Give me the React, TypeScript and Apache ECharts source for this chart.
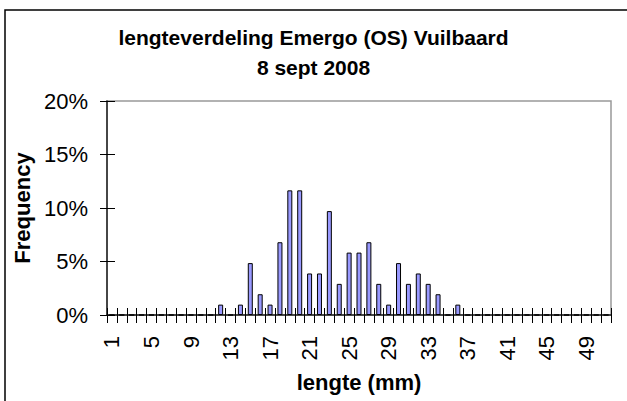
import React, { useEffect, useRef } from "react";
import * as echarts from "echarts";

const titleLines = ["lengteverdeling Emergo (OS) Vuilbaard", "8 sept 2008"];
const xAxisName = "lengte (mm)";
const yAxisName = "Frequency";

const categories = [
  "1", "2", "3", "4", "5", "6", "7", "8", "9", "10",
  "11", "12", "13", "14", "15", "16", "17", "18", "19", "20",
  "21", "22", "23", "24", "25", "26", "27", "28", "29", "30",
  "31", "32", "33", "34", "35", "36", "37", "38", "39", "40",
  "41", "42", "43", "44", "45", "46", "47", "48", "49", "50",
  "51",
];

const frequency = [
  0, 0, 0, 0, 0, 0, 0, 0, 0, 0,
  0, 0.0097, 0, 0.0097, 0.0485, 0.0194, 0.0097, 0.068, 0.1165, 0.1165,
  0.0388, 0.0388, 0.0971, 0.0291, 0.0583, 0.0583, 0.068, 0.0291, 0.0097, 0.0485,
  0.0291, 0.0388, 0.0291, 0.0194, 0, 0.0097, 0, 0, 0, 0,
  0, 0, 0, 0, 0, 0, 0, 0, 0, 0,
  0,
];

const yMin = 0;
const yMax = 0.2;
const yInterval = 0.05;

const FONT = "Arial, 'Liberation Sans', sans-serif";

export default function App() {
  const ref = useRef<HTMLDivElement>(null);
  useEffect(() => {
    document.body.style.margin = "0";
    if (!ref.current) return;
    const chart = echarts.init(ref.current, null, { renderer: "svg" });
    const pct = (v: number) => Math.round(v * 100) + "%";
    chart.setOption({
      animation: false,
      backgroundColor: "#fff",
      textStyle: { fontFamily: FONT, color: "#000" },
      title: {
        text: titleLines.join("\n"),
        left: "center",
        top: 17,
        textStyle: {
          fontFamily: FONT,
          fontSize: 21,
          fontWeight: "bold",
          color: "#000",
          lineHeight: 30,
        },
      },
      graphic: [
        {
          type: "rect",
          silent: true,
          z: -10,
          shape: { x: 5, y: 10, width: 700, height: 500 },
          style: { fill: "none", stroke: "#000", lineWidth: 1.5 },
        },
      ],
      grid: {
        left: 107,
        right: 16,
        top: 101,
        bottom: 86,
        containLabel: false,
        show: true,
        borderColor: "#999",
        borderWidth: 1.5,
        backgroundColor: "transparent",
      },
      xAxis: [
        {
          type: "category",
          data: categories,
          position: "bottom",
          name: xAxisName,
          nameLocation: "middle",
          nameGap: 56,
          nameTextStyle: {
            fontFamily: FONT,
            fontSize: 22,
            fontWeight: "bold",
            color: "#000",
          },
          axisLine: { show: true, lineStyle: { color: "#222", width: 1.5 } },
          axisTick: {
            show: true,
            inside: false,
            length: 8,
            interval: 0,
            alignWithLabel: false,
            lineStyle: { color: "#000", width: 1 },
          },
          axisLabel: {
            interval: 3,
            rotate: 90,
            margin: 21,
            fontFamily: FONT,
            fontSize: 22,
            color: "#000",
          },
          splitLine: { show: false },
        },
        {
          type: "category",
          data: categories,
          position: "bottom",
          axisLine: { show: false },
          axisTick: {
            show: true,
            inside: true,
            length: 7,
            interval: 0,
            alignWithLabel: false,
            lineStyle: { color: "#000", width: 1 },
          },
          axisLabel: { show: false },
          splitLine: { show: false },
        },
      ],
      yAxis: [
        {
          type: "value",
          min: yMin,
          max: yMax,
          interval: yInterval,
          position: "left",
          name: yAxisName,
          nameLocation: "middle",
          nameRotate: 90,
          nameGap: 63,
          nameTextStyle: {
            fontFamily: FONT,
            fontSize: 22,
            fontWeight: "bold",
            color: "#000",
          },
          axisLine: { show: true, lineStyle: { color: "#222", width: 1.5 } },
          axisTick: {
            show: true,
            inside: false,
            length: 7,
            lineStyle: { color: "#000", width: 1 },
          },
          axisLabel: {
            margin: 19,
            fontFamily: FONT,
            fontSize: 22,
            color: "#000",
            formatter: pct,
          },
          splitLine: { show: false },
        },
        {
          type: "value",
          min: yMin,
          max: yMax,
          interval: yInterval,
          position: "left",
          axisLine: { show: false },
          axisTick: {
            show: true,
            inside: true,
            length: 8,
            lineStyle: { color: "#000", width: 1 },
          },
          axisLabel: { show: false },
          splitLine: { show: false },
        },
      ],
      series: [
        {
          type: "bar",
          name: yAxisName,
          xAxisIndex: 0,
          yAxisIndex: 0,
          data: frequency,
          barWidth: 5,
          itemStyle: { color: "#9999FF", borderColor: "#000", borderWidth: 1 },
        },
      ],
    });
    return () => chart.dispose();
  }, []);
  return <div ref={ref} style={{ width: 627, height: 401 }} />;
}
